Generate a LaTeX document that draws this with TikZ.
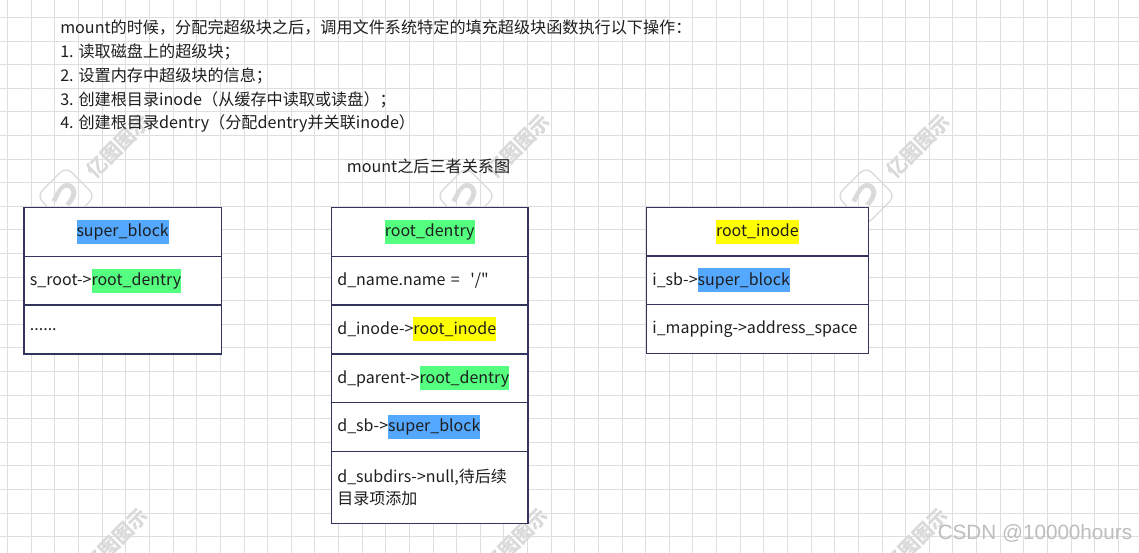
\documentclass[tikz,border=0pt]{standalone}
\usepackage{fontspec}
\newfontfamily\cjk{Noto Sans CJK SC}
\newfontfamily\wmfont{Liberation Sans}
\definecolor{gridc}{HTML}{DEDEDE}
\definecolor{wm}{HTML}{DADADA}
\definecolor{boxline}{HTML}{33355C}
\definecolor{txt}{HTML}{1E1E1E}
\definecolor{hlblue}{HTML}{55A8FF}
\definecolor{hlgreen}{HTML}{55FF80}
\definecolor{hlyellow}{HTML}{FFFF00}
\definecolor{csdn}{HTML}{BDBDBD}
\newcommand\hlt[2]{{\setlength{\fboxsep}{0pt}\colorbox{#1}{\rule[-5.3pt]{0pt}{18pt}#2}}}
\begin{document}
\begin{tikzpicture}[x=0.75pt,y=-0.75pt,
  gridline/.style={draw=gridc, line width=0.75pt},
  rowbox/.style={draw=boxline, fill=white, line width=1pt, anchor=north west,
    inner xsep=4.5pt, inner ysep=0pt, minimum height=36.7pt, text width=#1,
    align=left, font=\cjk\fontsize{12}{16.5}\selectfont, text=txt},
  headbox/.style={rowbox=#1, align=center},
  wmtext/.style={text=wm, font=\cjk\bfseries\fontsize{15}{15}\selectfont, rotate=45},
  wmlogo/.style={draw=wm, line width=1pt, rounded corners=6pt, minimum size=31pt, rotate=45},
  wmmark/.style={text=wm, font=\cjk\bfseries\fontsize{22}{22}\selectfont, rotate=45},
  plain/.style={font=\cjk\fontsize{12.1}{17.9}\selectfont, text=txt, inner sep=0pt}]
\useasboundingbox (0,0) rectangle (1139,553);
\fill[white] (0,0) rectangle (1139,553);
% grid
\foreach \i in {0,...,48} \draw[gridline] ({7.7+23.63*\i},0) -- ({7.7+23.63*\i},553);
\foreach \j in {0,...,23} \draw[gridline] (0,{17.5+23.6*\j}) -- (1139,{17.5+23.6*\j});
% watermarks
\foreach \k/\x in {1/66,2/466,3/866}{
  \node[wmlogo] (logo\k) at (\x,196) {};
  \node[wmmark] (mark\k) at (\x,196) {つ};
  \node[wmtext] (wmt\k) at ({\x+52},146) {亿图图示};
  \node[wmtext] (wmb\k) at ({\x+50},540) {亿图图示};
}
% intro text
\node[plain, anchor=north west, align=left] (intro) at (60,19.5) {mount的时候，分配完超级块之后，调用文件系统特定的填充超级块函数执行以下操作：\\
1. 读取磁盘上的超级块；\\
2. 设置内存中超级块的信息；\\
3. 创建根目录inode（从缓存中读取或读盘）；\\
4. 创建根目录dentry（分配dentry并关联inode）};
\node[plain] (title) at (428.5,166.7) {mount之后三者关系图};
% super_block
\node[headbox=139pt] (sb) at (23.3,206.7) {\hlt{hlblue}{super\_block}};
\node[rowbox=139pt] (sbroot) at (23.3,255.7) {s\_root->\hlt{hlgreen}{root\_dentry}};
\node[rowbox=139pt] (sbmore) at (23.3,304.3) {......};
% root_dentry
\node[headbox=138.5pt] (de) at (330.7,206.7) {\hlt{hlgreen}{root\_dentry}};
\node[rowbox=138.5pt] (dename) at (330.7,255.7) {d\_name.name =\ \ '/"};
\node[rowbox=138.5pt] (deinode) at (330.7,304.3) {d\_inode->\hlt{hlyellow}{root\_inode}};
\node[rowbox=138.5pt] (deparent) at (330.7,353.3) {d\_parent->\hlt{hlgreen}{root\_dentry}};
\node[rowbox=138.5pt] (desb) at (330.7,401.7) {d\_sb->\hlt{hlblue}{super\_block}};
\node[rowbox=138.5pt, minimum height=54pt] (desub) at (330.7,450.7) {d\_subdirs->null,待后续\\目录项添加};
% root_inode
\node[headbox=157.5pt] (in) at (645.7,206.7) {\hlt{hlyellow}{root\_inode}};
\node[rowbox=157.5pt] (insb) at (645.7,255.3) {i\_sb->\hlt{hlblue}{super\_block}};
\node[rowbox=157.5pt] (inmap) at (645.7,303.7) {i\_mapping->address\_space};
% csdn mark
\node[text=csdn, font=\wmfont\fontsize{15.5}{18}\selectfont, inner sep=0pt] (csdn) at (1035,533) {CSDN @10000hours};
\end{tikzpicture}
\end{document}
